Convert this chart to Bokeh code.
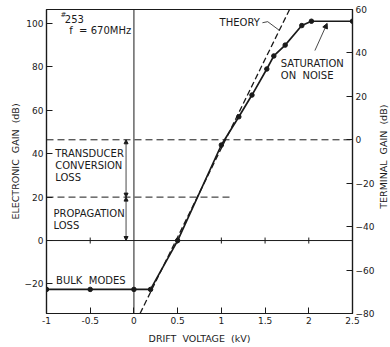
import math
from bokeh.plotting import figure
from bokeh.layouts import row
from bokeh.models import (Range1d, LinearAxis, FixedTicker, Span, Arrow,
                          NormalHead, Label)
from bokeh.embed import file_html
from bokeh.resources import INLINE

# ---------------- data ----------------
drift_kv = [-1.0, -0.5, 0.0, 0.19, 0.5, 1.0, 1.2, 1.35, 1.52, 1.6, 1.73, 1.92, 2.03, 2.5]
gain_db = [-22.5, -22.5, -22.5, -22.5, 0.0, 44.0, 57.0, 67.0, 79.0, 85.0, 90.0, 99.0, 101.0, 101.0]
theory_kv = [0.07, 1.78]
theory_db = [-33.6, 106.4]
propagation_loss_db = 20.0
terminal_zero_db = 46.4          # electronic gain where terminal gain = 0
propagation_line_end_kv = 1.1
x_ticks = [-1, -0.5, 0, 0.5, 1, 1.5, 2, 2.5]
x_tick_labels = ["-1", "-0.5", "0", "0.5", "1", "1.5", "2", "2.5"]
left_ticks = [-20, 0, 20, 40, 60, 80, 100]
right_ticks = [-80, -60, -40, -20, 0, 20, 40, 60]
zero_line_ticks = [-0.5, 0.5, 1, 1.5, 2]

INK = "#1a1a1a"
FONT = "DejaVu Sans"
SP = "\u00a0\u00a0"

y_lo, y_hi = -33.6, 106.4
p = figure(width=377, height=347, output_backend="svg", toolbar_location=None,
           x_range=Range1d(-1, 2.5), y_range=Range1d(y_lo, y_hi),
           min_border_left=46, min_border_right=24, min_border_top=9, min_border_bottom=34)
p.extra_y_ranges = {"term": Range1d(y_lo - terminal_zero_db, y_hi - terminal_zero_db)}
p.grid.visible = False
p.outline_line_color = INK
p.outline_line_width = 1.2
p.background_fill_color = "white"
p.border_fill_color = "white"

def style_axis(ax, ticks):
    ax.ticker = FixedTicker(ticks=ticks)
    ax.minor_tick_line_color = None
    ax.major_tick_in = 6
    ax.major_tick_out = 0
    ax.axis_line_color = INK
    ax.axis_line_width = 1.2
    ax.major_tick_line_color = INK
    ax.major_tick_line_width = 1
    ax.major_label_text_font = FONT
    ax.major_label_text_font_size = "9px"
    ax.major_label_text_color = INK
    ax.major_label_standoff = 3
    ax.axis_label_text_font = FONT
    ax.axis_label_text_font_size = "9.5px"
    ax.axis_label_text_font_style = "normal"
    ax.axis_label_text_color = INK
    ax.axis_label_standoff = 1

xa = p.xaxis[0]
style_axis(xa, x_ticks)
xa.major_label_overrides = {t: l for t, l in zip(x_ticks, x_tick_labels)}
xa.axis_label = f"DRIFT{SP}VOLTAGE{SP}(kV)"
xa.axis_label_standoff = 6

ya = p.yaxis[0]
style_axis(ya, left_ticks)
ya.axis_label = f"ELECTRONIC{SP}GAIN{SP}(dB)"

ra = LinearAxis(y_range_name="term")
style_axis(ra, right_ticks)
p.add_layout(ra, "right")

# reference lines
p.add_layout(Span(location=0, dimension="height", line_color=INK, line_width=1))
p.add_layout(Span(location=0, dimension="width", line_color=INK, line_width=1))
p.add_layout(Span(location=terminal_zero_db, dimension="width", line_color=INK,
                  line_width=1, line_dash="7 4"))
p.line([x_ticks[0], propagation_line_end_kv], [propagation_loss_db, propagation_loss_db],
       line_color=INK, line_width=1, line_dash="7 4")
p.scatter(zero_line_ticks, [0] * len(zero_line_ticks), marker="dash", angle=math.pi / 2,
          size=6, line_color=INK, line_width=1)

# theory and measured
p.line(theory_kv, theory_db, line_color=INK, line_width=1.3, line_dash="6 3")
p.line(drift_kv, gain_db, line_color=INK, line_width=1.7)
p.scatter(drift_kv, gain_db, size=4.5, fill_color=INK, line_color=INK)

# double arrows for losses
for y0, y1 in [(0, propagation_loss_db), (propagation_loss_db, terminal_zero_db)]:
    p.add_layout(Arrow(x_start=-0.09, y_start=y0, x_end=-0.09, y_end=y1,
                       line_color=INK, line_width=0.8,
                       start=NormalHead(size=4, fill_color=INK, line_color=INK),
                       end=NormalHead(size=4, fill_color=INK, line_color=INK)))

# saturation arrow
p.add_layout(Arrow(x_start=2.07, y_start=87.5, x_end=2.21, y_end=100.0,
                   line_color=INK, line_width=0.8,
                   end=NormalHead(size=5, fill_color=INK, line_color=INK)))
# theory leader
p.line([1.47, 1.53, 1.66], [100.3, 100.8, 96.9], line_color=INK, line_width=0.8)

def label(x, y, t, size="10px", align="left"):
    p.add_layout(Label(x=x, y=y, text=t, text_font=FONT, text_font_size=size,
                       text_color=INK, text_baseline="middle", text_align=align))

label(-0.84, 104.0, "#", size="7px")
label(-0.79, 102.0, "253")
label(-0.74, 96.5, f"f{SP}={SP[0]}670MHz")
label(0.98, 100.4, "THEORY")
label(1.68, 81.5, "SATURATION")
label(1.68, 75.9, f"ON{SP}NOISE")
label(-0.9, 40.1, "TRANSDUCER")
label(-0.9, 34.6, "CONVERSION")
label(-0.9, 29.0, "LOSS")
label(-0.92, 12.5, "PROPAGATION")
label(-0.92, 6.7, "LOSS")
label(-0.89, -18.6, f"BULK{SP}MODES")

# narrow strip holding the right-hand axis title (reads bottom-to-top)
q = figure(width=13, height=347, output_backend="svg", toolbar_location=None,
           x_range=Range1d(0, 13), y_range=Range1d(0, 347),
           min_border_left=0, min_border_right=0, min_border_top=0, min_border_bottom=0,
           x_axis_location=None, y_axis_location=None)
q.grid.visible = False
q.outline_line_color = None
q.background_fill_color = "white"
q.border_fill_color = "white"
q.add_layout(Label(x=6, y=347 - 168, text=f"TERMINAL{SP}GAIN{SP}(dB)", angle=math.pi / 2,
                   text_align="center", text_baseline="middle",
                   text_font=FONT, text_font_size="9.5px", text_color=INK))

layout = row(p, q, spacing=0)
open("out.html", "w").write(file_html(layout, INLINE))
